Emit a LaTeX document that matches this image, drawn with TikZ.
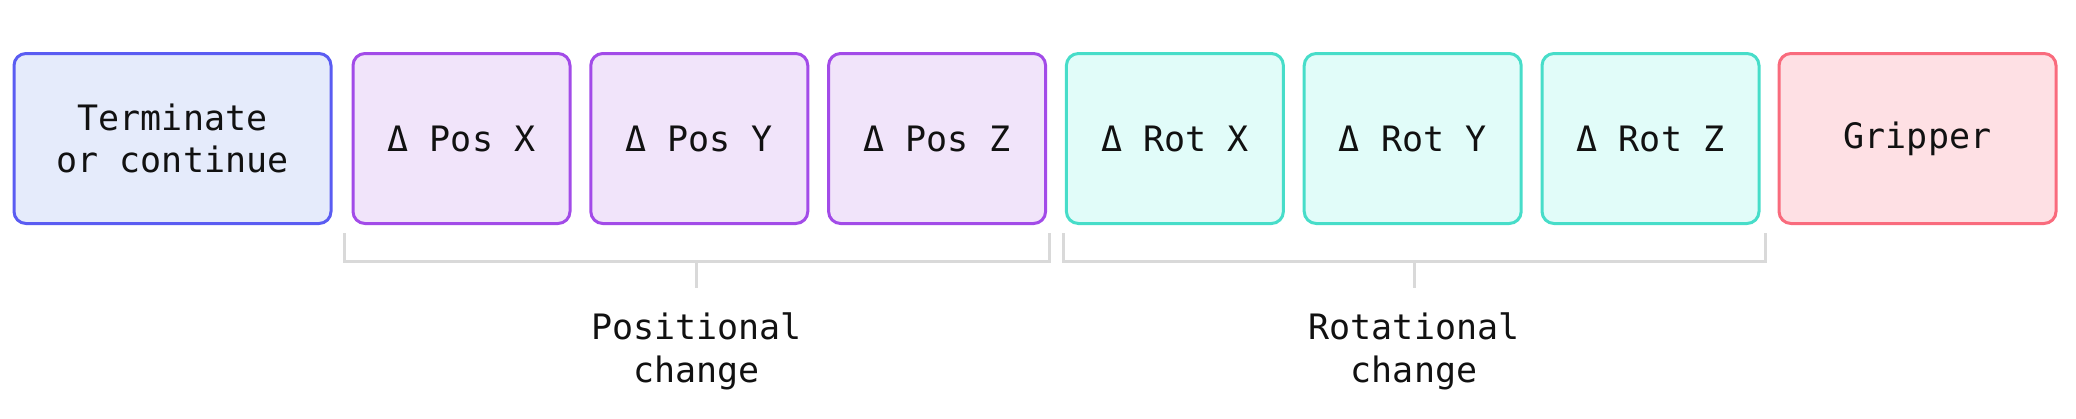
\documentclass[tikz,border=0pt]{standalone}
\usepackage{fontspec}
\setmonofont{DejaVu Sans Mono}
\usetikzlibrary{calc}
\definecolor{bluebd}{HTML}{5A5CF2}
\definecolor{bluefill}{HTML}{E5EBFB}
\definecolor{purpbd}{HTML}{A24BE8}
\definecolor{purpfill}{HTML}{F1E4FA}
\definecolor{tealbd}{HTML}{47DDC9}
\definecolor{tealfill}{HTML}{E1FCF9}
\definecolor{redbd}{HTML}{F96B7D}
\definecolor{redfill}{HTML}{FEE0E4}
\definecolor{brk}{HTML}{D9D9D9}
\definecolor{txt}{HTML}{111111}
\tikzset{
  cell/.style={rectangle, rounded corners=12pt, line width=3pt, minimum height=170pt,
    inner sep=0pt, align=center, text=txt, font=\ttfamily\fontsize{35}{42}\selectfont},
  blu/.style={cell, draw=bluebd, fill=bluefill},
  pur/.style={cell, draw=purpbd, fill=purpfill, minimum width=217pt},
  tea/.style={cell, draw=tealbd, fill=tealfill, minimum width=217pt},
  rdd/.style={cell, draw=redbd, fill=redfill},
  brace/.style={draw=brk, line width=3pt},
  lbl/.style={align=center, inner sep=0pt, text=txt, font=\ttfamily\fontsize{35}{43}\selectfont}
}
\begin{document}
\begin{tikzpicture}[x=1pt,y=-1pt]
\useasboundingbox (0,0) rectangle (2076,418);
\node[blu, minimum width=317pt] (t) at (172.5,138.5) {Terminate\\or continue};
\node[pur] (px) at (461.5,138.5) {Δ Pos X};
\node[pur] (py) at (699.3,138.5) {Δ Pos Y};
\node[pur] (pz) at (937.1,138.5) {Δ Pos Z};
\node[tea] (rx) at (1174.9,138.5) {Δ Rot X};
\node[tea] (ry) at (1412.7,138.5) {Δ Rot Y};
\node[tea] (rz) at (1650.5,138.5) {Δ Rot Z};
\node[rdd, minimum width=277pt] (g) at (1917.5,138.5) {Gripper};
% brackets
\coordinate (pa) at (344,233);
\coordinate (pb) at (1049,233);
\coordinate (pm) at (696.5,261);
\coordinate (ps) at (696.5,288);
\draw[brace] (pa) |- (pm) -| (pb);
\draw[brace] (pm) -- (ps);
\coordinate (ra) at (1063,233);
\coordinate (rb) at (1765,233);
\coordinate (rm) at (1414,261);
\coordinate (rs) at (1414,288);
\draw[brace] (ra) |- (rm) -| (rb);
\draw[brace] (rm) -- (rs);
\node[lbl] (pl) at (696.5,351) {Positional\\change};
\node[lbl] (rl) at (1414,351) {Rotational\\change};
\end{tikzpicture}
\end{document}
